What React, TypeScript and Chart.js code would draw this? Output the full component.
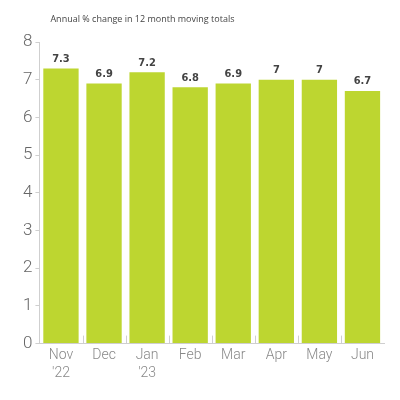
import React, { useEffect, useRef } from "react";
import { Chart, registerables } from "chart.js";

Chart.register(...registerables);

const categories: string[][] = [["Nov", "'22"], ["Dec"], ["Jan", "'23"], ["Feb"], ["Mar"], ["Apr"], ["May"], ["Jun"]];
const values: number[] = [7.3, 6.9, 7.2, 6.8, 6.9, 7, 7, 6.7];
const yTicks: number[] = [0, 1, 2, 3, 4, 5, 6, 7, 8];
const titleText = "Annual % change in 12 month moving totals";

const BAR_COLOR = "#bdd630";

const extras = {
  id: "extras",
  afterDatasetsDraw(chart: any) {
    const ctx = chart.ctx;
    const meta = chart.getDatasetMeta(0);
    ctx.save();
    ctx.fillStyle = "#444";
    ctx.font = "bold 11px 'DejaVu Sans Condensed', 'Liberation Sans Narrow', sans-serif";
    ctx.textAlign = "center";
    ctx.textBaseline = "bottom";
    meta.data.forEach((bar: any, i: number) => {
      ctx.fillText(String(values[i]), bar.x, bar.y - 4);
    });
    const xs = chart.scales.x;
    const bottom = chart.chartArea.bottom;
    ctx.strokeStyle = "#cfcfcf";
    ctx.lineWidth = 1;
    for (let i = 1; i < categories.length; i++) {
      const x = Math.round(xs.getPixelForValue(i - 0.5)) + 0.5;
      ctx.beginPath();
      ctx.moveTo(x, bottom - 8);
      ctx.lineTo(x, bottom);
      ctx.stroke();
    }
    ctx.fillStyle = "#444";
    ctx.font = "9px 'Open Sans', 'Noto Sans', sans-serif";
    ctx.textAlign = "left";
    ctx.textBaseline = "middle";
    ctx.fillText(titleText, chart.chartArea.left + 11, 19);
    ctx.restore();
  },
};

export default function App() {
  const ref = useRef<HTMLCanvasElement | null>(null);
  useEffect(() => {
    if (!ref.current) return;
    const chart = new Chart(ref.current, {
      type: "bar",
      data: {
        labels: categories,
        datasets: [
          {
            data: values,
            backgroundColor: BAR_COLOR,
            borderWidth: 0,
            categoryPercentage: 0.82,
            barPercentage: 1,
          },
        ],
      },
      options: {
        animation: false,
        responsive: false,
        layout: { padding: { top: 42, right: 16, bottom: 14, left: 20 } },
        plugins: {
          legend: { display: false },
          tooltip: { enabled: false },
          title: { display: false },
        },
        scales: {
          x: {
            grid: { display: false, drawTicks: false },
            border: { display: true, color: "#cfcfcf", width: 1 },
            ticks: {
              color: "#888",
              font: { family: "Roboto, 'Liberation Sans', sans-serif", size: 14, weight: 300 as any, lineHeight: 1.3 },
              padding: 3,
              maxRotation: 0,
              autoSkip: false,
            },
          },
          y: {
            min: 0,
            max: 8,
            afterBuildTicks: (axis: any) => {
              axis.ticks = yTicks.map((v) => ({ value: v }));
            },
            grid: { drawOnChartArea: false, drawTicks: true, tickLength: 4, color: "#cfcfcf" },
            border: { display: true, color: "#cfcfcf", width: 1 },
            ticks: {
              color: "#666",
              font: { family: "Roboto, 'Liberation Sans', sans-serif", size: 17, weight: 300 as any },
              padding: 3,
            },
          },
        },
      },
      plugins: [extras],
    });
    return () => chart.destroy();
  }, []);
  return (
    <div style={{ position: "absolute", left: 0, top: 0, width: 400, height: 400, background: "#fff" }}>
      <canvas ref={ref} width={400} height={400} style={{ width: 400, height: 400 }} />
    </div>
  );
}
